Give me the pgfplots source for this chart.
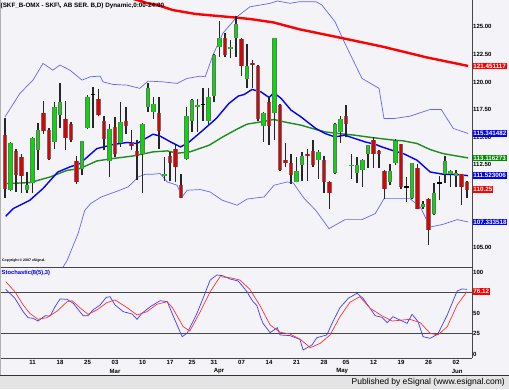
\documentclass[border=0pt]{standalone}
\usepackage{fontspec}
\setmainfont{Liberation Sans}
\usepackage{pgfplots}
\pgfplotsset{compat=1.18}
\usepackage{pgfplotstable}
\definecolor{bgc}{RGB}{244,243,248}
\definecolor{footc}{RGB}{228,228,230}
\definecolor{upc}{RGB}{0,224,0}
\definecolor{dnc}{RGB}{224,0,0}
\definecolor{outc}{RGB}{110,110,110}
\definecolor{mablue}{RGB}{0,0,255}
\definecolor{magreen}{RGB}{30,140,30}
\definecolor{mared}{RGB}{255,0,0}
\definecolor{bbc}{RGB}{100,100,255}
\definecolor{stk}{RGB}{60,60,255}
\definecolor{std}{RGB}{255,50,50}
\definecolor{boxgreen}{RGB}{0,140,0}
\definecolor{linec}{RGB}{70,70,70}

% up candles (close >= open)
\pgfplotstableread{
i o h l c
1 110.26 114.6 110.1 114.43
4 110.26 111.86 109.96 110.71
5 110.86 115.0 109.96 114.97
6 113.82 116.33 112.07 115.69
9 114.58 118.2 113.91 117.69
10 116.99 119.92 115.79 118.2
14 112.1 114.7 111.55 114.67
15 115.79 118.8 115.7 118.66
19 112.83 116.24 111.4 115.73
21 114.49 118.2 114.12 116.39
25 113.52 116.3 109.96 116.24
26 117.75 119.92 117.3 119.41
27 117.3 118.66 116.69 117.99
29 111.5 113.22 110.99 111.71
33 113.0 117.75 112.95 116.93
34 116.48 118.5 115.48 118.41
35 117.75 118.44 115.48 117.96
37 116.48 119.41 116.0 118.6
38 118.69 122.5 118.17 122.43
39 123.19 125.54 122.28 123.94
41 122.95 123.79 122.13 123.19
42 123.94 125.97 122.28 125.24
44 120.23 123.4 119.41 121.43
47 116.0 117.3 114.58 117.21
49 117.15 124.0 114.79 123.94
53 110.92 113.22 110.9 111.92
54 112.52 113.67 111.04 113.28
57 112.98 113.88 111.25 113.67
60 111.77 116.3 111.7 116.24
61 115.48 116.9 114.49 116.69
63 112.36 113.46 111.25 112.46
64 111.77 113.22 110.86 112.46
65 112.01 113.0 110.5 112.98
66 113.52 114.3 112.25 114.27
70 110.95 112.55 110.65 111.95
71 112.67 114.8 112.5 114.67
74 109.53 112.7 109.4 112.67
76 108.72 109.26 108.54 108.93
78 108.02 110.86 108.0 109.96
80 111.71 113.34 110.86 112.82
81 111.65 112.0 110.5 111.95
82 111.53 112.01 110.5 111.77
}\tup

% down candles (close < open)
\pgfplotstableread{
i o h l c
0 115.24 116.78 109.53 110.35
2 113.73 113.91 110.05 111.56
3 113.22 113.46 109.96 111.5
7 117.15 118.26 115.33 115.54
8 115.69 115.8 112.9 113.0
11 116.69 118.26 113.88 114.97
12 116.24 116.4 114.58 114.79
13 112.86 113.3 110.8 110.95
17 118.44 119.4 116.9 116.99
18 116.45 116.93 113.82 114.82
20 115.94 116.84 113.22 113.52
22 116.45 117.69 115.33 116.0
23 114.49 115.64 113.82 114.21
24 113.73 114.73 111.16 113.28
28 117.21 118.66 113.97 115.58
30 113.28 113.67 110.99 112.7
31 113.97 114.27 110.92 112.31
32 110.71 111.71 109.5 109.53
40 123.94 124.4 122.28 122.43
43 123.85 124.0 120.53 121.43
45 121.74 121.98 119.41 121.53
46 121.43 121.5 116.48 116.69
48 118.2 118.66 114.27 116.0
50 117.9 118.0 111.9 112.01
51 112.98 114.43 112.31 112.7
52 112.7 113.46 110.8 111.56
55 113.46 113.97 111.04 113.28
56 113.73 114.73 112.31 112.46
58 112.98 113.28 109.96 110.95
59 110.95 111.0 108.54 109.96
62 116.9 117.9 115.0 116.24
67 114.73 115.03 112.25 113.52
68 113.73 113.88 112.25 113.52
69 111.95 112.0 109.44 110.35
72 114.37 114.4 110.35 110.5
75 112.25 112.55 108.5 108.54
77 109.44 109.5 105.21 106.57
83 111.65 111.7 108.84 110.5
84 110.95 111.0 109.5 110.25
}\tdn

% doji candles (open = close)
\pgfplotstableread{
i o h l c
16 118.9 119.5 115.79 118.9
36 117.96 119.41 116.45 117.96
73 110.5 111.4 109.14 110.5
79 110.86 111.46 109.29 110.86
}\tdj

\pgfplotsset{
  wick/.style={draw=none, mark=none, forget plot,
    error bars/.cd, y dir=plus, y explicit, error mark=none,
    error bar style={line width=1.5pt, draw=black!85}},
  bodyout/.style={draw=none, mark=none, forget plot,
    error bars/.cd, y dir=plus, y explicit, error mark=none,
    error bar style={line width=4.4pt, draw=outc}},
  bodyfill/.style={draw=none, mark=none, forget plot,
    error bars/.cd, y dir=plus, y explicit, error mark=none,
    error bar style={line width=2.8pt, draw=#1}},
}

\begin{document}
\begin{tikzpicture}
\useasboundingbox (0pt,0pt) rectangle (509pt,389pt);
\fill[bgc] (0pt,0pt) rectangle (509pt,389pt);
\fill[footc] (0pt,0pt) rectangle (509pt,14pt);

\begin{axis}[
  at={(0pt,122pt)}, anchor=south west, scale only axis,
  width=472pt, height=267pt,
  xmin=-0.91, xmax=84.9, ymin=103.25, ymax=127.42,
  axis x line=none, axis y line*=right, axis line style={draw=none},
  ytick={105,112.5,115,117.5,120,122.5,125},
  yticklabels={105.00,112.50,115.00,117.50,120.00,122.50,125.00},
  major tick length=0pt,
  yticklabel style={font=\fontsize{6}{7}\selectfont\bfseries, inner sep=1pt, anchor=west},
  clip mode=individual,
]
% Bollinger bands
\addplot[bbc, line width=0.7pt] coordinates {(0,116.84) (2.7,118.96) (5.1,120.17) (6.9,121.68) (8.7,121.07) (10.0,121.53) (11.8,121.07) (14.0,120.17) (15.5,120.47) (17.3,120.53) (17.8,120.01) (19.6,119.78) (22.2,119.71) (24.5,119.42) (26.0,120.08) (28.7,120.01) (31.3,119.87) (33.1,120.32) (35.5,120.53) (36.4,120.47) (37.8,122.43) (39.6,124.4) (42.2,125.91) (44.5,126.8) (48.2,127.12) (49.5,127.33) (51.8,127.12) (53.6,127.27) (56.5,127.27) (57.6,126.97) (60.0,125.45) (61.8,123.49) (64.9,120.32) (68.0,119.42) (68.9,116.69) (70.7,116.69) (73.6,116.9) (77.3,117.51) (79.3,117.51) (81.5,115.79) (84.2,115.34)};
\addplot[bbc, line width=0.7pt] coordinates {(0,99.5) (5,100.8) (9,102) (11.3,103.85) (13.3,106.3) (14.5,108.38) (15.6,109.0) (17.5,109.59) (20.0,110.04) (22.4,110.5) (24.2,111.4) (25.5,111.65) (26.9,111.65) (28.2,111.71) (29.5,110.95) (31.3,110.65) (32.2,109.59) (33.1,110.2) (35.5,110.26) (37.3,110.04) (39.5,109.29) (42.2,108.84) (44.0,109.4) (47.1,109.59) (48.9,110.65) (51.3,110.95) (52.4,110.86) (54.4,109.44) (56.5,108.38) (58.9,106.72) (61.8,107.54) (64.9,107.54) (67.3,108.08) (68.9,109.44) (70.7,109.44) (73.6,109.44) (75.5,108.68) (77.3,106.87) (79.6,107.11) (82.2,107.54) (84.2,107.33)};
% moving averages
\addplot[mared, line width=2.4pt] coordinates {(20,128.0) (23.8,127.45) (26.0,127.12) (27.5,127.0) (30.5,126.51) (34.7,126.15) (41.5,125.85) (44.5,125.7) (48.7,125.4) (53.6,124.76) (61.5,123.95) (68.7,123.19) (76.7,122.22) (84.2,121.45)};
\addplot[magreen, line width=1.4pt] coordinates {(0.13,110.8) (4.5,110.89) (8.2,111.4) (11.3,112.0) (13.6,112.16) (16.7,112.85) (19.6,113.07) (23.3,113.3) (26.9,113.67) (29.5,113.76) (31.3,113.55) (33.6,113.67) (37.1,114.27) (39.6,115.03) (42.4,115.79) (44.0,116.18) (46.5,116.39) (48.9,116.6) (50.7,116.39) (53.8,116.09) (56.5,115.7) (58.2,115.48) (60.7,115.33) (63.6,115.18) (66.7,114.97) (70.7,114.73) (72.4,114.67) (74.9,114.43) (77.3,113.88) (79.6,113.52) (84.2,113.12)};
\addplot[mablue, line width=1.4pt] coordinates {(0.13,107.84) (1.5,108.54) (4.5,109.29) (6.9,110.35) (9.6,111.85) (11.8,112.31) (13.6,112.61) (16.7,113.97) (19.6,114.33) (22.2,114.52) (24.0,114.43) (26.9,115.27) (28.2,115.1) (30.0,114.6) (31.9,114.12) (33.3,114.49) (36.0,115.64) (38.4,116.69) (40.7,118.05) (42.4,118.72) (43.5,118.87) (44.9,119.32) (46.5,119.11) (48.0,118.6) (48.9,119.02) (50.2,118.51) (52.0,117.45) (53.8,116.84) (56.5,115.79) (58.2,115.33) (60.0,115.03) (61.8,115.18) (63.6,114.88) (65.5,114.57) (67.3,114.36) (68.5,114.12) (70.7,113.76) (72.4,113.52) (74.9,112.92) (77.3,111.85) (79.6,111.65) (82.2,111.62) (84.2,111.52)};
% candles: wicks
\addplot[wick] table[x=i, y=l, y error expr=\thisrow{h}-\thisrow{l}] {\tup};
\addplot[wick] table[x=i, y=l, y error expr=\thisrow{h}-\thisrow{l}] {\tdn};
\addplot[wick] table[x=i, y=l, y error expr=\thisrow{h}-\thisrow{l}] {\tdj};
% candles: bodies
\addplot[bodyout] table[x=i, y=o, y error expr=\thisrow{c}-\thisrow{o}] {\tup};
\addplot[bodyfill=upc] table[x=i, y=o, y error expr=\thisrow{c}-\thisrow{o}] {\tup};
\addplot[bodyout] table[x=i, y=c, y error expr=\thisrow{o}-\thisrow{c}] {\tdn};
\addplot[bodyfill=dnc] table[x=i, y=c, y error expr=\thisrow{o}-\thisrow{c}] {\tdn};
\addplot[only marks, mark=-, mark size=2.2pt, mark options={line width=1.2pt, black}, forget plot] table[x=i, y=o] {\tdj};
% value boxes
\begin{scope}[every node/.style={anchor=west, text=white, font=\fontsize{6.3}{7}\selectfont\bfseries, inner xsep=0.6pt, inner ysep=1.1pt, xshift=0.6pt}]
\node[fill=mared] at (axis cs:84.9,121.451117) {121.451117};
\node[fill=mablue] at (axis cs:84.9,115.341482) {115.341482};
\node[fill=boxgreen] at (axis cs:84.9,113.116273) {113.116273};
\node[fill=mablue] at (axis cs:84.9,111.523006) {111.523006};
\node[fill=mared] at (axis cs:84.9,110.25) {110.25};
\node[fill=mablue] at (axis cs:84.9,107.333518) {107.333518};
\end{scope}
\end{axis}

\begin{axis}[
  at={(0pt,31pt)}, anchor=south west, scale only axis,
  width=472pt, height=91pt,
  xmin=-0.91, xmax=84.9, ymin=-4.9, ymax=106.1,
  axis x line*=bottom, axis y line*=right, axis line style={draw=none},
  xtick={5,10,15,20,25,30,34,38,43,48,53,58,62,67,72,77,82},
  xticklabels={11,18,25,03,10,17,25,31,07,14,21,28,05,12,19,26,02},
  xticklabel style={font=\fontsize{6}{7}\selectfont\bfseries, anchor=center, yshift=-4.2pt, inner sep=0pt},
  ytick={0,25,50,100},
  yticklabels={0,25,50,100},
  yticklabel style={font=\fontsize{6}{7}\selectfont\bfseries, inner sep=1pt, anchor=west},
  major tick length=0pt,
  clip mode=individual,
]
\draw[linec, line width=0.8pt] (axis cs:-0.91,25) -- (axis cs:84.9,25);
\draw[linec, line width=0.8pt] (axis cs:-0.91,75) -- (axis cs:84.9,75);
\addplot[stk, line width=0.7pt] coordinates {(0.13,78.9) (1.8,67.9) (3.3,51.6) (4.2,44.3) (5.1,43.5) (6.0,40.2) (7.3,46.7) (8.2,46.3) (9.1,57.7) (10.0,67.1) (11.3,66.7) (12.4,61.8) (14.2,46.7) (15.1,46.7) (16.0,53.7) (17.3,59.8) (18.4,69.1) (19.1,69.9) (20.0,59.8) (21.5,51.6) (23.1,48.8) (24.0,42.3) (24.9,49.6) (26.4,57.7) (28.2,65.0) (29.5,63.8) (30.5,47.6) (32.2,21.1) (33.1,25.2) (34.9,49.6) (36.0,67.9) (37.3,90.2) (38.5,96.3) (39.6,95.5) (40.9,91.5) (42.4,89.0) (44.0,76.0) (44.5,70) (45.1,63.8) (45.8,59) (46.4,46) (46.9,37.4) (48.2,26.0) (49.5,32.1) (50.0,23.2) (51.8,22.4) (53.6,17.9) (54.2,4.9) (55.8,11.0) (56.7,19.9) (58.5,23.2) (59.6,39.4) (60.9,56.5) (62.4,67.9) (64.0,74.0) (65.1,67.9) (67.3,46.7) (68.5,44.8) (69.5,38.2) (70.5,45.5) (72.2,40.2) (73.1,37.4) (74.0,48.4) (75.1,39.4) (76.0,21.1) (77.3,19.1) (78.7,24.4) (80.4,47.6) (82.2,76.8) (83.1,79.3) (84.0,78.9)};
\addplot[std, line width=0.7pt] coordinates {(0.13,88.2) (1.8,76.0) (3.3,59.8) (4.5,49.6) (6.0,42.3) (7.6,44.3) (9.5,52.4) (11.3,63.8) (12.2,65.0) (13.6,56.5) (15.1,48.4) (16.7,53.7) (18.5,62.6) (20.0,65.9) (22.2,56.5) (24.0,47.6) (25.8,51.6) (27.6,60.6) (29.5,63.8) (30.5,55.7) (32.4,33.3) (33.6,28.0) (35.5,51.6) (37.3,76.0) (39.1,94.3) (40.9,93.0) (42.7,90.2) (44.5,79.0) (46.4,58.5) (48.2,35.4) (50.0,26.5) (51.8,24.4) (53.6,18.3) (55.5,7.7) (57.3,13.0) (59.1,23.2) (60.9,45.5) (62.7,63.0) (64.5,69.9) (66.4,55.7) (68.5,46.7) (70.4,40.2) (71.8,41.1) (73.6,42.3) (75.5,38.2) (77.3,25.2) (78.7,23.2) (80.4,33.3) (82.2,59.8) (84.0,76.12)};
\node[anchor=west, fill=mared, text=white, font=\fontsize{6.3}{7}\selectfont\bfseries, inner xsep=0.6pt, inner ysep=1.1pt, xshift=0.6pt] at (axis cs:84.9,76.12) {76.12};
\begin{scope}[every node/.style={font=\fontsize{6}{7}\selectfont\bfseries, anchor=center, inner sep=0pt}]
\node at (axis cs:20,-4.9) [yshift=-13pt] {Mar};
\node at (axis cs:38.9,-4.9) [yshift=-13pt] {Apr};
\node at (axis cs:61.3,-4.9) [yshift=-13pt] {May};
\node at (axis cs:82.2,-4.9) [yshift=-13pt] {Jun};
\end{scope}
\end{axis}

% frame lines
\draw[linec, line width=0.9pt] (472pt,31pt) -- (472pt,389pt);
\draw[linec, line width=0.9pt] (0pt,122pt) -- (472pt,122pt);
\draw[linec, line width=0.9pt] (0pt,31pt) -- (472pt,31pt);
\draw[black!80, line width=0.9pt] (0pt,14pt) -- (509pt,14pt);
\draw[black!30, line width=0.6pt] (0.3pt,14pt) -- (0.3pt,389pt);

% texts
\node[anchor=west, inner sep=0pt, font=\fontsize{6.3}{7}\selectfont\bfseries] at (0.5pt,383.5pt) {(SKF\_B-OMX - SKF\textbackslash, AB SER. B,D) Dynamic,0:00-24:00};
\node[anchor=west, inner sep=0pt, font=\fontsize{3.5}{4}\selectfont\bfseries] at (2pt,128pt) {Copyright © 2007 eSignal.};
\node[anchor=west, inner sep=0pt, text=blue, font=\fontsize{5.8}{7}\selectfont\bfseries] at (1.5pt,116pt) {Stochastic(8(5),3)};
\node[anchor=east, inner sep=0pt, font=\fontsize{8.5}{10}\selectfont] at (505pt,7pt) {Published by eSignal (www.esignal.com)};
\end{tikzpicture}
\end{document}
